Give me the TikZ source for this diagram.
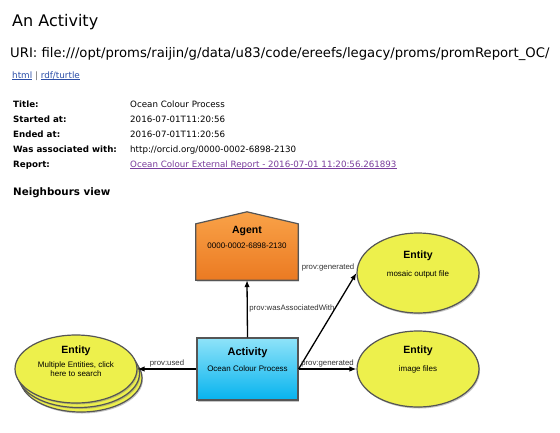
\documentclass[tikz,border=0pt]{standalone}
\usepackage{fontspec}
\setmainfont{DejaVu Sans}
\newfontfamily\diagfont{Liberation Sans}
\usetikzlibrary{arrows.meta,positioning,shapes.geometric,shadows,calc}
\definecolor{agentTop}{HTML}{F9A248}
\definecolor{agentBot}{HTML}{EB7A22}
\definecolor{actTop}{HTML}{8FE3F9}
\definecolor{actBot}{HTML}{06B3EE}
\definecolor{entFill}{HTML}{EDF04C}
\definecolor{edgeGray}{HTML}{555555}
\definecolor{linkBlue}{HTML}{2B4EA8}
\definecolor{linkPurple}{HTML}{7A3D9C}
\newcommand{\ulink}[1]{\setbox0\hbox{#1}\rlap{\rule[-1.5pt]{\wd0}{0.5pt}}\box0}

\begin{document}
\begin{tikzpicture}[x=1pt,y=-1pt,
  txt/.style={anchor=base west,inner sep=0pt},
  rowlbl/.style={txt,font=\fontsize{8.7}{10}\selectfont\bfseries},
  rowval/.style={txt,font=\fontsize{8.7}{10}\selectfont},
  shade box/.style={drop shadow={shadow xshift=1pt,shadow yshift=-1.5pt,opacity=.45}},
  entity/.style={ellipse,draw=edgeGray,line width=1.2pt,fill=entFill,minimum width=122pt,minimum height=76pt,shade box},
  activitybox/.style={rectangle,draw=edgeGray,line width=1.2pt,top color=actTop,bottom color=actBot,minimum width=101pt,minimum height=62pt,shade box},
  agentbox/.style={rectangle,minimum width=102pt,minimum height=56pt},
  agentfill/.style={draw=edgeGray,line width=1.2pt,top color=agentTop,bottom color=agentBot,shade box},
  ttl/.style={font=\diagfont\fontsize{10.5}{12}\selectfont\bfseries,inner sep=0pt},
  sub/.style={font=\diagfont\fontsize{8}{9.6}\selectfont,align=center,inner sep=0pt},
  rel/.style={-{Latex[length=7pt,width=5.5pt]},line width=1.3pt},
  rellbl/.style={font=\diagfont\fontsize{7.8}{9}\selectfont,text=black!80,inner sep=1.5pt}]
\useasboundingbox[fill=white] (0,0) rectangle (560,432);

% page header
\node[txt,font=\fontsize{16}{19}\selectfont] (heading) at (12,26) {An Activity};
\node[txt,font=\fontsize{13.2}{16}\selectfont] (uri) at (10,57) {URI: file:///opt/proms/raijin/g/data/u83/code/ereefs/legacy/proms/promReport\_OC/};
\node[txt,font=\fontsize{8.8}{10}\selectfont] (links) at (12,78) {\textcolor{linkBlue}{\ulink{html}} \textcolor{black!60}{|} \textcolor{linkBlue}{\ulink{rdf/turtle}}};

% properties table
\foreach \lbl/\val [count=\i] in {Title:/Ocean Colour Process,Started at:/2016-07-01T11:20:56,Ended at:/2016-07-01T11:20:56,{Was associated with:}/{http://orcid.org/0000-0002-6898-2130}} {
  \node[rowlbl] (lbl\i) at (13,{92+15*\i}) {\lbl};
  \node[rowval] (val\i) at (130,{92+15*\i}) {\val};
}
\node[rowlbl] (lbl5) at (13,167) {Report:};
\node[rowval,text=linkPurple] (val5) at (130,167) {\ulink{Ocean Colour External Report - 2016-07-01 11:20:56.261893}};
\node[txt,font=\fontsize{10.3}{12}\selectfont\bfseries] (nview) at (13,195) {Neighbours view};

% neighbours graph
\node[agentbox] (agent) at (247,252) {};
\path[agentfill] (agent.south west) -- (agent.north west) -- ($(agent.north)+(0,-12)$) -- (agent.north east) -- (agent.south east) -- cycle;
\node[ttl] at (247,231) {Agent};
\node[sub] at (247,246) {0000-0002-6898-2130};

\node[activitybox] (act) at (247.5,369) {};
\node[ttl,font=\diagfont\fontsize{11}{13}\selectfont\bfseries] at (247.5,353) {Activity};
\node[sub] at (247.5,369) {Ocean Colour Process};

\node[entity,minimum height=68pt] (used3) at (81,378) {};
\node[entity,minimum height=68pt] (used2) at (78.5,373.5) {};
\node[entity,minimum height=68pt] (used) at (76,369) {};
\node[ttl] at (76,351) {Entity};
\node[sub] at (76,369) {Multiple Entities, click\\here to search};

\node[entity,minimum height=80pt] (gen1) at (418,273) {};
\node[ttl] at (418,256) {Entity};
\node[sub] at (418,274) {mosaic output file};

\node[entity] (gen2) at (418,369) {};
\node[ttl] at (418,351) {Entity};
\node[sub] at (418,369) {image files};

\draw[rel] (act.north) -- node[rellbl,right]{prov:wasAssociatedWith} (agent.south);
\draw[rel] (act.west) -- node[rellbl,above]{prov:used} (used.east);
\draw[rel] (act.east) -- node[rellbl,pos=1,anchor=south east]{prov:generated} (gen1.west);
\draw[rel] (act.east) -- node[rellbl,above]{prov:generated} (gen2.west);
\end{tikzpicture}
\end{document}
